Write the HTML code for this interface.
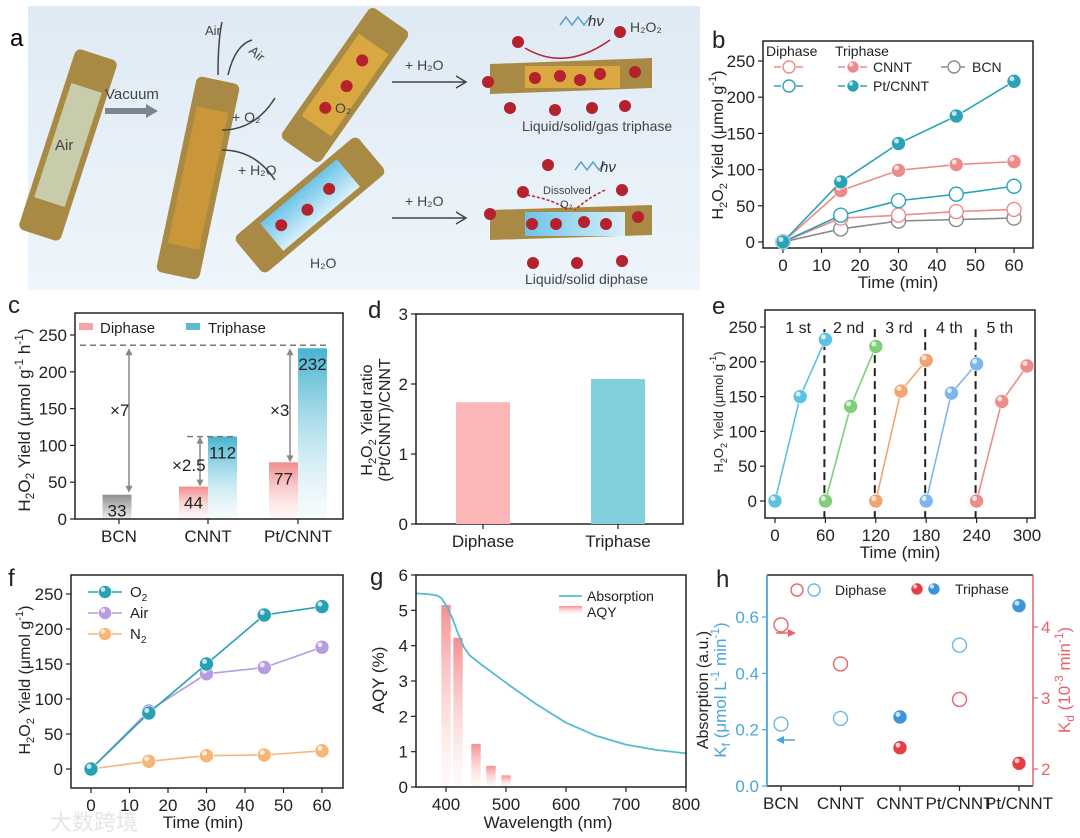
<!DOCTYPE html>
<html><head><meta charset="utf-8">
<style>
html,body{margin:0;padding:0;background:#fff;}
svg{display:block;font-family:"Liberation Sans",Arial,sans-serif;}
</style></head>
<body>
<svg id="fig" width="1080" height="838" viewBox="0 0 1080 838" xmlns="http://www.w3.org/2000/svg">
<defs>
  <linearGradient id="gPink" x1="0" y1="0" x2="0" y2="1"><stop offset="0" stop-color="#f08c8c"/><stop offset="1" stop-color="#fde8e8" stop-opacity="0.3"/></linearGradient>
  <linearGradient id="gBlue" x1="0" y1="0" x2="0" y2="1"><stop offset="0" stop-color="#45b3cf"/><stop offset="1" stop-color="#e6f5fa" stop-opacity="0.3"/></linearGradient>
  <linearGradient id="gGrey" x1="0" y1="0" x2="0" y2="1"><stop offset="0" stop-color="#8f8f8f"/><stop offset="1" stop-color="#eeeeee"/></linearGradient>
  <linearGradient id="gAqy" x1="0" y1="0" x2="0" y2="1"><stop offset="0" stop-color="#f58f8f"/><stop offset="1" stop-color="#fde6e6" stop-opacity="0.2"/></linearGradient>
  <linearGradient id="gBg" x1="0" y1="0" x2="0" y2="1"><stop offset="0" stop-color="#dfeaf4"/><stop offset="1" stop-color="#eef5fb"/></linearGradient>
  <linearGradient id="gWater" x1="0" y1="0" x2="1" y2="0"><stop offset="0" stop-color="#6cc4e8"/><stop offset="1" stop-color="#d8f0fa"/></linearGradient>
</defs>

<!-- Panel a schematic -->
<g>
  <rect x="28" y="6" width="672" height="284" fill="url(#gBg)"/>
  <text x="10" y="46" font-size="24">a</text>
  <g transform="translate(68,145) rotate(18)">
    <rect x="-22" y="-95" width="44" height="190" rx="6" fill="#a88a45"/>
    <rect x="-16" y="-60" width="32" height="120" fill="#c9ccaa"/>
  </g>
  <text x="55" y="150" font-size="15" fill="#444">Air</text>
  <path d="M105 111 L148 111" stroke="#7a8590" stroke-width="6"/>
  <path d="M146 104 L158 111 L146 118 Z" fill="#7a8590"/>
  <text x="105" y="99" font-size="15" fill="#444">Vacuum</text>
  <g transform="translate(198,178) rotate(12)">
    <rect x="-22" y="-100" width="44" height="200" rx="6" fill="#a88a45"/>
    <rect x="-16" y="-70" width="32" height="140" fill="#c9963a"/>
  </g>
  <path d="M218 75 Q218 40 222 22 M228 75 Q235 45 252 40" stroke="#444" stroke-width="1.5" fill="none"/>
  <text x="205" y="35" font-size="13" fill="#444">Air</text>
  <text x="248" y="52" font-size="13" fill="#444" transform="rotate(40 248 52)">Air</text>
  <path d="M222 130 Q255 130 275 98" stroke="#444" stroke-width="1.5" fill="none"/>
  <path d="M222 150 Q255 150 275 180" stroke="#444" stroke-width="1.5" fill="none"/>
  <text x="232" y="122" font-size="14" fill="#444">+ O₂</text>
  <text x="238" y="175" font-size="14" fill="#444">+ H₂O</text>
  <g transform="translate(345,85) rotate(35)">
    <rect x="-24" y="-80" width="48" height="160" rx="6" fill="#a88a45"/>
    <rect x="-18" y="-50" width="36" height="100" fill="#d9a840"/>
    <circle cx="0" cy="-30" r="6" fill="#b5222e"/><circle cx="2" cy="0" r="6" fill="#b5222e"/><circle cx="-3" cy="30" r="6" fill="#b5222e"/>
  </g>
  <text x="335" y="113" font-size="14" fill="#444">O₂</text>
  <g transform="translate(310,205) rotate(50)">
    <rect x="-24" y="-80" width="48" height="160" rx="6" fill="#a88a45"/>
    <rect x="-18" y="-50" width="36" height="100" fill="url(#gWater)"/>
    <circle cx="0" cy="-25" r="6" fill="#b5222e"/><circle cx="2" cy="5" r="6" fill="#b5222e"/><circle cx="-3" cy="35" r="6" fill="#b5222e"/>
  </g>
  <text x="310" y="268" font-size="14" fill="#444">H₂O</text>
  <path d="M392 82 L465 82 M456 76 L466 82 L456 88" stroke="#444" stroke-width="1.5" fill="none"/>
  <text x="405" y="70" font-size="14" fill="#444">+ H₂O</text>
  <path d="M392 218 L465 218 M456 212 L466 218 L456 224" stroke="#444" stroke-width="1.5" fill="none"/>
  <text x="405" y="206" font-size="14" fill="#444">+ H₂O</text>
  <g>
    <path d="M490 64 L652 58 L652 88 L490 94 Z" fill="#a88a45"/>
    <rect x="525" y="66" width="95" height="22" fill="#d9a840"/>
    <circle cx="535" cy="78" r="6" fill="#b5222e"/><circle cx="560" cy="76" r="6" fill="#b5222e"/><circle cx="580" cy="80" r="6" fill="#b5222e"/><circle cx="600" cy="74" r="6" fill="#b5222e"/>
    <circle cx="510" cy="108" r="6" fill="#b5222e"/><circle cx="555" cy="110" r="6" fill="#b5222e"/><circle cx="592" cy="108" r="6" fill="#b5222e"/><circle cx="625" cy="106" r="6" fill="#b5222e"/>
    <circle cx="488" cy="82" r="6" fill="#b5222e"/><circle cx="635" cy="72" r="6" fill="#b5222e"/>
    <circle cx="518" cy="42" r="6" fill="#b5222e"/><circle cx="620" cy="32" r="6" fill="#b5222e"/>
    <path d="M525 48 Q565 72 610 40" stroke="#b5222e" stroke-width="1.5" fill="none"/>
    <path d="M560 25 l6 -8 l6 8 l6 -8 l6 8 l6 -8" stroke="#5aa0d0" stroke-width="1.5" fill="none"/>
  </g>
  <text x="588" y="26" font-size="15" font-style="italic" fill="#333">hν</text>
  <text x="630" y="32" font-size="14" fill="#444">H₂O₂</text>
  <text x="522" y="131" font-size="14" fill="#444">Liquid/solid/gas triphase</text>
  <g>
    <path d="M490 210 L652 205 L652 235 L490 240 Z" fill="#a88a45"/>
    <rect x="525" y="212" width="100" height="24" fill="url(#gWater)"/>
    <circle cx="532" cy="224" r="6" fill="#b5222e"/><circle cx="556" cy="224" r="6" fill="#b5222e"/><circle cx="584" cy="222" r="6" fill="#b5222e"/><circle cx="606" cy="224" r="6" fill="#b5222e"/>
    <circle cx="533" cy="263" r="6" fill="#b5222e"/><circle cx="577" cy="263" r="6" fill="#b5222e"/><circle cx="622" cy="261" r="6" fill="#b5222e"/>
    <circle cx="490" cy="214" r="6" fill="#b5222e"/><circle cx="638" cy="217" r="6" fill="#b5222e"/>
    <circle cx="523" cy="192" r="6" fill="#b5222e"/><circle cx="548" cy="165" r="6" fill="#b5222e"/><circle cx="622" cy="190" r="6" fill="#b5222e"/>
    <path d="M527 195 Q555 200 568 210 M605 190 Q585 200 575 210" stroke="#b5222e" stroke-width="1.5" stroke-dasharray="3 2" fill="none"/>
    <path d="M575 170 l6 -8 l6 8 l6 -8 l6 8 l6 -8" stroke="#5aa0d0" stroke-width="1.5" fill="none"/>
  </g>
  <text x="600" y="172" font-size="15" font-style="italic" fill="#333">hν</text>
  <text x="543" y="194" font-size="11" fill="#444">Dissolved</text>
  <text x="560" y="208" font-size="11" fill="#444">O₂</text>
  <text x="525" y="284" font-size="14" fill="#444">Liquid/solid diphase</text>
</g>

<g id="charts"></g>
</svg>

<script>
// ---------- data ----------
const bTime = [0, 15, 30, 45, 60];
const bDiCNNT = [0, 33, 37, 42, 45];
const bDiPt = [0, 37, 57, 66, 77];
const bTriCNNT = [0, 71, 99, 107, 111];
const bTriPt = [0, 83, 136, 174, 222];
const bBCN = [0, 18, 29, 31, 33];
const bYTicks = [0, 50, 100, 150, 200, 250];
const bXTicks = [0, 10, 20, 30, 40, 50, 60];

const cCats = ["BCN", "CNNT", "Pt/CNNT"];
const cDiphase = [33, 44, 77];
const cTriphase = [null, 112, 232];
const cYTicks = [0, 50, 100, 150, 200, 250];

const dCats = ["Diphase", "Triphase"];
const dRatio = [1.74, 2.07];
const dYTicks = [0, 1, 2, 3];

const eTime = [[0, 30, 60], [60, 90, 120], [120, 150, 180], [180, 210, 240], [240, 270, 300]];
const eYield = [[0, 150, 232], [0, 136, 222], [0, 158, 202], [0, 155, 197], [0, 143, 194]];
const eRunLabels = ["1 st", "2 nd", "3 rd", "4 th", "5 th"];
const eDividers = [60, 120, 180, 240];
const eXTicks = [0, 60, 120, 180, 240, 300];
const eYTicks = [0, 50, 100, 150, 200, 250];

const fTime = [0, 15, 30, 45, 60];
const fO2 = [0, 80, 150, 220, 232];
const fAir = [0, 83, 136, 145, 174];
const fN2 = [0, 11, 19, 20, 26];
const fXTicks = [0, 10, 20, 30, 40, 50, 60];
const fYTicks = [0, 50, 100, 150, 200, 250];

const gWave = [350, 370, 385, 392, 400, 410, 420, 430, 440, 460, 480, 500, 550, 600, 650, 700, 750, 800];
const gAbs = [5.48, 5.46, 5.42, 5.35, 5.15, 4.8, 4.35, 3.95, 3.72, 3.45, 3.2, 2.95, 2.35, 1.82, 1.45, 1.2, 1.05, 0.95];
const gAqyWave = [400, 420, 450, 475, 500];
const gAqy = [5.15, 4.22, 1.22, 0.6, 0.33];
const gXTicks = [400, 500, 600, 700, 800];
const gYTicks = [0, 1, 2, 3, 4, 5, 6];

const hCats = ["BCN", "CNNT", "CNNT", "Pt/CNNT", "Pt/CNNT"];
const hKfDiphase = [0.22, 0.24, null, 0.50, null];
const hKfTriphase = [null, null, 0.245, null, 0.64];
const hKdDiphase = [4.03, 3.48, null, 2.98, null];
const hKdTriphase = [null, null, 2.3, null, 2.08];
const hLeftTicks = [0.0, 0.2, 0.4, 0.6];
const hRightTicks = [2, 3, 4];

// ---------- helpers ----------
const NS = "http://www.w3.org/2000/svg";
const root = document.getElementById("charts");
function mk(tag, attrs, parent) {
  const el = document.createElementNS(NS, tag);
  for (const k in attrs) el.setAttribute(k, attrs[k]);
  (parent || root).appendChild(el);
  return el;
}
function lin(d0, d1, r0, r1) { return v => r0 + (v - d0) * (r1 - r0) / (d1 - d0); }
function txt(x, y, s, size, parent, extra) {
  const t = mk("text", Object.assign({x: x, y: y, "font-size": size, fill: "#222"}, extra || {}), parent);
  t.textContent = s;
  return t;
}
function frame(g, L, T, R, B, color) {
  const r = mk("rect", {x: L, y: T, width: R - L, height: B - T, fill: "none", stroke: color || "#222", "stroke-width": 1.5}, g);
  
  
}
function yAxisTicks(g, ticks, ys, L, fmt, color, side) {
  ticks.forEach(v => {
    const y = ys(v);
    const dir = side === "right" ? 1 : -1;
    mk("line", {x1: L, x2: L + dir * 5, y1: y, y2: y, stroke: color || "#222", "stroke-width": 1.2}, g);
    const t = txt(L + dir * 8, y + 6, fmt ? fmt(v) : String(v), 17, g, {"text-anchor": side === "right" ? "start" : "end", fill: color || "#222"});
    
    
  });
}
function xAxisTicks(g, ticks, xs, B, labels) {
  ticks.forEach((v, i) => {
    const x = xs(v);
    mk("line", {x1: x, x2: x, y1: B, y2: B + 5, stroke: "#222", "stroke-width": 1.2}, g);
    const t = txt(x, B + 23, labels ? labels[i] : String(v), 17, g, {"text-anchor": "middle"});
    
    
  });
}
function ball(g, x, y, color, r, open) {
  if (open) {
    return mk("circle", {cx: x, cy: y, r: r || 7, fill: "#fff", stroke: color, "stroke-width": 1.4}, g);
  }
  const c = mk("circle", {cx: x, cy: y, r: r || 7, fill: color, stroke: "#fff", "stroke-width": 0.6}, g);
  mk("circle", {cx: x - 2, cy: y - 2.5, r: (r || 7) * 0.35, fill: "#fff", opacity: 0.75}, g);
  return c;
}
function polyline(g, xsArr, ysArr, xs, ys, color) {
  const pts = xsArr.map((v, i) => xs(v) + "," + ys(ysArr[i])).join(" ");
  return mk("polyline", {points: pts, fill: "none", stroke: color, "stroke-width": 1.6}, g);
}
function yTitle(g, x, y, parts, size, color) {
  const t = mk("text", {x: x, y: y, "font-size": size, fill: color || "#222", "text-anchor": "middle", transform: "rotate(-90 " + x + " " + y + ")"}, g);
  parts.forEach(p => {
    const s = mk("tspan", p[1] ? {"font-size": size * 0.7, dy: p[1] === "sub" ? 4 : -7} : {}, t);
    s.textContent = p[0];
    if (p[1]) { const back = mk("tspan", {dy: p[1] === "sub" ? -4 : 7, "font-size": 1}, t); back.textContent = "\u200b"; }
  });
  return t;
}

// ---------- panel b ----------
(function () {
  const g = mk("g", {});
  
  
  const L = 763, R = 1033, T = 41, B = 248;
  const xs = lin(0, 60, 783, 1014), ys = lin(0, 250, 242, 61);
  txt(712, 48, "b", 24, g);
  frame(g, L, T, R, B);
  yAxisTicks(g, bYTicks, ys, L);
  xAxisTicks(g, bXTicks, xs, B);
  const yt = yTitle(g, 723, 145, [["H"], ["2", "sub"], ["O"], ["2", "sub"], [" Yield (μmol g"], ["-1", "sup"], [")"]], 16);
  
  
  const xt = txt(898, 288, "Time (min)", 17, g, {"text-anchor": "middle"});
  
  
  const series = [[bBCN, "#8a8a8a", true, "bcn"], [bDiCNNT, "#f08a8a", true, "diphase-cnnt"], [bDiPt, "#2ba3b7", true, "diphase-pt-cnnt"], [bTriCNNT, "#f08a8a", false, "triphase-cnnt"], [bTriPt, "#2ba3b7", false, "triphase-pt-cnnt"]];
  series.forEach(s => {
    const pl = polyline(g, bTime, s[0], xs, ys, s[1]);
    
    
    bTime.forEach((t, i) => {
      const c = ball(g, xs(t), ys(s[0][i]), s[1], 7, s[2]);
      
      
    });
  });
  const lg = mk("g", {}, g);
  
  
  txt(766, 56, "Diphase", 14, lg);
  txt(835, 56, "Triphase", 14, lg);
  [[67, "#f08a8a"], [86, "#2ba3b7"]].forEach(r => {
    mk("line", {x1: 774, x2: 804, y1: r[0], y2: r[0], stroke: r[1], "stroke-width": 1.5, "stroke-dasharray": "7 4"}, lg);
    ball(lg, 789, r[0], r[1], 6, true);
  });
  [[67, "#f08a8a", "CNNT"], [86, "#2ba3b7", "Pt/CNNT"]].forEach(r => {
    mk("line", {x1: 838, x2: 868, y1: r[0], y2: r[0], stroke: r[1], "stroke-width": 1.5, "stroke-dasharray": "7 4"}, lg);
    ball(lg, 853, r[0], r[1], 6, false);
    txt(873, r[0] + 5, r[2], 14, lg);
  });
  mk("line", {x1: 941, x2: 968, y1: 67, y2: 67, stroke: "#8a8a8a", "stroke-width": 1.5, "stroke-dasharray": "6 3"}, lg);
  ball(lg, 954, 67, "#8a8a8a", 6, true);
  txt(972, 72, "BCN", 14, lg);
})();

// ---------- panel c ----------
(function () {
  const g = mk("g", {});
  
  
  const L = 75, R = 343, T = 313, B = 519;
  const ys = lin(0, 250, 519, 335);
  const catX = [119, 208, 298];
  txt(8, 313, "c", 24, g);
  yAxisTicks(g, cYTicks, ys, L);
  xAxisTicks(g, [0, 1, 2], i => catX[i], B, cCats);
  const yt = yTitle(g, 30, 420, [["H"], ["2", "sub"], ["O"], ["2", "sub"], [" Yield (μmol g"], ["-1", "sup"], [" h"], ["-1", "sup"], [")"]], 17);
  
  
  const bw = 29;
  cCats.forEach((c, i) => {
    const hasTri = cTriphase[i] !== null;
    const dx = hasTri ? catX[i] - bw : catX[i] - bw / 2 - 2;
    const fill = i === 0 ? "url(#gGrey)" : "url(#gPink)";
    const r1 = mk("rect", {x: dx, y: ys(cDiphase[i]), width: bw, height: B - ys(cDiphase[i]), fill: fill}, g);
    
    
    txt(dx + bw / 2, ys(cDiphase[i]) + 22, String(cDiphase[i]), 17, g, {"text-anchor": "middle"});
    if (hasTri) {
      const r2 = mk("rect", {x: catX[i], y: ys(cTriphase[i]), width: bw, height: B - ys(cTriphase[i]), fill: "url(#gBlue)"}, g);
      
      
      txt(catX[i] + bw / 2, ys(cTriphase[i]) + 22, String(cTriphase[i]), 17, g, {"text-anchor": "middle"});
    }
  });
  frame(g, L, T, R, B);
  const dl = mk("line", {x1: 80, x2: catX[2] + bw, y1: ys(cTriphase[2]) - 3, y2: ys(cTriphase[2]) - 3, stroke: "#777", "stroke-width": 1.4, "stroke-dasharray": "6 4"}, g);
  
  
  mk("line", {x1: 187, x2: catX[1] + bw, y1: ys(cTriphase[1]), y2: ys(cTriphase[1]), stroke: "#777", "stroke-width": 1.4, "stroke-dasharray": "6 4"}, g);
  function varrow(x, y1, y2) {
    mk("line", {x1: x, x2: x, y1: y1 + 5, y2: y2 - 5, stroke: "#888", "stroke-width": 1.5}, g);
    mk("path", {d: `M${x - 3.5} ${y1 + 7} L${x} ${y1} L${x + 3.5} ${y1 + 7}Z`, fill: "#888"}, g);
    mk("path", {d: `M${x - 3.5} ${y2 - 7} L${x} ${y2} L${x + 3.5} ${y2 - 7}Z`, fill: "#888"}, g);
  }
  varrow(129, ys(cTriphase[2]), ys(cDiphase[0]) - 2);
  varrow(200, ys(cTriphase[1]), ys(cDiphase[1]));
  varrow(290, ys(cTriphase[2]), ys(cDiphase[2]));
  txt(110, 416, "×7", 17, g);
  txt(172, 471, "×2.5", 17, g);
  txt(270, 416, "×3", 17, g);
  const lg = mk("g", {}, g);
  
  
  mk("rect", {x: 79, y: 323, width: 14, height: 7, fill: "#f5a5a5"}, lg);
  txt(100, 333, "Diphase", 15, lg);
  mk("rect", {x: 186, y: 323, width: 14, height: 7, fill: "#5bbbd3"}, lg);
  txt(208, 333, "Triphase", 15, lg);
})();

// ---------- panel d ----------
(function () {
  const g = mk("g", {});
  
  
  const L = 416, R = 683, T = 314, B = 524;
  const ys = lin(0, 3, 524, 314);
  const cx = [483, 618];
  txt(368, 318, "d", 24, g);
  frame(g, L, T, R, B);
  yAxisTicks(g, dYTicks, ys, L);
  xAxisTicks(g, [0, 1], i => cx[i], B, dCats);
  const colors = ["#fbb7b8", "#7fcfdd"];
  dCats.forEach((c, i) => {
    const r = mk("rect", {x: cx[i] - 27, y: ys(dRatio[i]), width: 54, height: B - ys(dRatio[i]), fill: colors[i]}, g);
    
    
  });
  const yt = yTitle(g, 372, 420, [["H"], ["2", "sub"], ["O"], ["2", "sub"], [" Yield ratio"]], 16);
  
  
  const yt2 = yTitle(g, 390, 420, [["(Pt/CNNT)/CNNT"]], 16);
  
  
})();

// ---------- panel e ----------
(function () {
  const g = mk("g", {});
  
  
  const L = 765, R = 1035, T = 310, B = 518;
  const xs = lin(0, 300, 775, 1027), ys = lin(0, 250, 501, 327);
  txt(712, 314, "e", 24, g);
  frame(g, L, T, R, B);
  yAxisTicks(g, eYTicks, ys, L);
  xAxisTicks(g, eXTicks, xs, B);
  const yt = yTitle(g, 723, 412, [["H"], ["2", "sub"], ["O"], ["2", "sub"], [" Yield (μmol g"], ["-1", "sup"], [")"]], 13);
  
  
  const xt = txt(900, 558, "Time (min)", 17, g, {"text-anchor": "middle"});
  
  
  eDividers.forEach(d => {
    const l = mk("line", {x1: xs(d) - 1, x2: xs(d) - 1, y1: ys(247), y2: B, stroke: "#222", "stroke-width": 2, "stroke-dasharray": "8 5"}, g);
    
    
  });
  const lblX = [30, 90, 150, 210, 270];
  eRunLabels.forEach((s, i) => {
    const t = txt(xs(lblX[i]) - 2, 333, s, 16, g, {"text-anchor": "middle"});
    
    
  });
  const colors = ["#5cc2de", "#7dcf79", "#f3a46d", "#7fb5ec", "#ee8b8b"];
  eTime.forEach((ts, k) => {
    const pl = polyline(g, ts, eYield[k], xs, ys, colors[k]);
    
    
    ts.forEach((t, i) => {
      const c = ball(g, xs(t), ys(eYield[k][i]), colors[k], 7, false);
      
      
    });
  });
})();

// ---------- panel f ----------
(function () {
  const g = mk("g", {});
  
  
  const L = 71, R = 343, T = 575, B = 788;
  const xs = lin(0, 60, 91, 322), ys = lin(0, 250, 769, 594);
  txt(8, 586, "f", 24, g);
  frame(g, L, T, R, B);
  yAxisTicks(g, fYTicks, ys, L);
  xAxisTicks(g, fXTicks, xs, B);
  const yt = yTitle(g, 30, 680, [["H"], ["2", "sub"], ["O"], ["2", "sub"], [" Yield (μmol g"], ["-1", "sup"], [")"]], 16);
  
  
  const xt = txt(203, 828, "Time (min)", 17, g, {"text-anchor": "middle"});
  
  
  const series = [[fN2, "#f7b677", "n2"], [fAir, "#b79ce2", "air"], [fO2, "#27a1b4", "o2"]];
  series.forEach(s => {
    const pl = polyline(g, fTime, s[0], xs, ys, s[1]);
    
    
    fTime.forEach((t, i) => {
      const c = ball(g, xs(t), ys(s[0][i]), s[1], 7, false);
      
      
    });
  });
  const lg = mk("g", {}, g);
  
  
  [[592, "#27a1b4", "O", "2"], [613, "#b79ce2", "Air", ""], [634, "#f7b677", "N", "2"]].forEach(r => {
    mk("line", {x1: 88, x2: 122, y1: r[0], y2: r[0], stroke: r[1], "stroke-width": 1.5}, lg);
    ball(lg, 105, r[0], r[1], 6.5, false);
    const t = txt(130, r[0] + 5, r[2], 15, lg);
    if (r[3]) { const s = mk("tspan", {"font-size": 10, dy: 4}, t); s.textContent = r[3]; }
  });
  const wm = txt(50, 830, "大数跨境", 22, g, {fill: "#e6e6e6", "font-family": "'Noto Sans CJK SC', sans-serif"});
  
  
})();

// ---------- panel g ----------
(function () {
  const g = mk("g", {});
  
  
  const L = 416, R = 686, T = 575, B = 787;
  const xs = lin(350, 800, 416, 686), ys = lin(0, 6, 787, 575);
  txt(370, 585, "g", 24, g);
  yAxisTicks(g, gYTicks, ys, L);
  xAxisTicks(g, gXTicks, xs, B);
  const yt = yTitle(g, 384, 680, [["AQY (%)"]], 17);
  
  
  const xt = txt(548, 828, "Wavelength (nm)", 17, g, {"text-anchor": "middle"});
  
  
  gAqyWave.forEach((w, i) => {
    const r = mk("rect", {x: xs(w) - 4.7, y: ys(gAqy[i]), width: 9.4, height: B - ys(gAqy[i]), fill: "url(#gAqy)"}, g);
    
    
  });
  const path = gWave.map((w, i) => (i ? "L" : "M") + xs(w).toFixed(1) + " " + ys(gAbs[i]).toFixed(1)).join(" ");
  const p = mk("path", {d: path, fill: "none", stroke: "#55bcd0", "stroke-width": 1.8}, g);
  
  
  frame(g, L, T, R, B);
  const lg = mk("g", {}, g);
  
  
  mk("line", {x1: 559, x2: 582, y1: 596, y2: 596, stroke: "#55bcd0", "stroke-width": 1.8}, lg);
  txt(587, 601, "Absorption", 14, lg);
  mk("rect", {x: 559, y: 606, width: 23, height: 8, fill: "url(#gAqy)"}, lg);
  txt(587, 617, "AQY", 14, lg);
})();

// ---------- panel h ----------
(function () {
  const g = mk("g", {});
  
  
  const L = 767, R = 1033, T = 575, B = 786;
  const xs = i => 781 + i * 59.5;
  const yl = lin(0, 0.6, 786, 617), yr = lin(2, 4, 769, 627);
  txt(716, 587, "h", 24, g);
  mk("line", {x1: L, x2: R, y1: T, y2: T, stroke: "#222", "stroke-width": 1.5}, g);
  mk("line", {x1: L, x2: R, y1: B, y2: B, stroke: "#222", "stroke-width": 1.5}, g);
  const la = mk("line", {x1: L, x2: L, y1: T, y2: B, stroke: "#4aa6dc", "stroke-width": 1.8}, g);
  
  
  const ra = mk("line", {x1: R, x2: R, y1: T, y2: B, stroke: "#e8646a", "stroke-width": 1.5}, g);
  
  
  yAxisTicks(g, hLeftTicks, yl, L, v => v.toFixed(1), "#4aa6dc");
  yAxisTicks(g, hRightTicks, yr, R, null, "#e8646a", "right");
  xAxisTicks(g, [0, 1, 2, 3, 4], xs, B, hCats);
  const yt0 = yTitle(g, 708, 690, [["Absorption (a.u.)"]], 16);
  
  
  const yt = yTitle(g, 726, 690, [["K"], ["f", "sub"], [" (μmol L"], ["-1", "sup"], [" min"], ["-1", "sup"], [")"]], 17, "#4aa6dc");
  
  
  const yt2 = yTitle(g, 1070, 680, [["K"], ["d", "sub"], [" (10"], ["-3", "sup"], [" min"], ["-1", "sup"], [")"]], 17, "#e8646a");
  
  
  hCats.forEach((c, i) => {
    if (hKfDiphase[i] !== null) { const m = ball(g, xs(i), yl(hKfDiphase[i]), "#6fb7e3", 7, true);   }
    if (hKfTriphase[i] !== null) { const m = ball(g, xs(i), yl(hKfTriphase[i]), "#3a95dc", 7, false);   }
    if (hKdDiphase[i] !== null) { const m = ball(g, xs(i), yr(hKdDiphase[i]), "#e8646a", 7, true);   }
    if (hKdTriphase[i] !== null) { const m = ball(g, xs(i), yr(hKdTriphase[i]), "#e53e45", 7, false);   }
  });
  mk("line", {x1: 776, x2: 792, y1: 633, y2: 633, stroke: "#e8646a", "stroke-width": 1.5}, g);
  mk("path", {d: "M788 629 L796 633 L788 637 Z", fill: "#e8646a"}, g);
  mk("line", {x1: 780, x2: 795, y1: 740, y2: 740, stroke: "#4aa6dc", "stroke-width": 1.5}, g);
  mk("path", {d: "M784 736 L776 740 L784 744 Z", fill: "#4aa6dc"}, g);
  const lg = mk("g", {}, g);
  
  
  ball(lg, 797, 590, "#e8646a", 6, true);
  ball(lg, 814, 590, "#6fb7e3", 6, true);
  txt(835, 595, "Diphase", 14, lg);
  ball(lg, 917, 589, "#e53e45", 6, false);
  ball(lg, 934, 589, "#3a95dc", 6, false);
  txt(955, 594, "Triphase", 14, lg);
})();
</script>
</body></html>
